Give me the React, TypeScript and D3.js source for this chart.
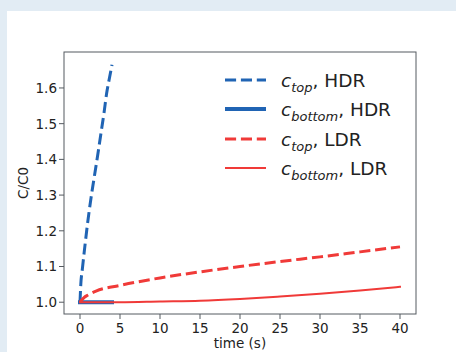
import React from "react";
import * as d3 from "d3";

const xTicks = [0, 5, 10, 15, 20, 25, 30, 35, 40];
const yTicks = [1.0, 1.1, 1.2, 1.3, 1.4, 1.5, 1.6];

const hdrTopT = [0, 0.1, 0.3, 0.6, 0.92, 1.3, 1.75, 2.2, 2.58, 3.0, 3.33, 3.7, 4.0];
const hdrTopC = [1.0, 1.05, 1.094, 1.155, 1.216, 1.28, 1.346, 1.41, 1.467, 1.53, 1.585, 1.63, 1.665];

const hdrBotT = [0, 4];
const hdrBotC = [1.0, 1.0];

const ldrTopT = [0, 0.5, 1, 2, 5, 10, 15, 20, 25, 30, 35, 40];
const ldrTopC = [1.0, 1.013, 1.02, 1.031, 1.047, 1.068, 1.085, 1.1, 1.114, 1.127, 1.141, 1.155];

const ldrBotT = [0, 5, 10, 15, 20, 25, 30, 35, 40];
const ldrBotC = [1.0, 1.0, 1.002, 1.004, 1.009, 1.016, 1.024, 1.033, 1.043];

const BLUE = "#2064b4";
const RED = "#f03a38";
const FONT = "DejaVu Sans, sans-serif";

const series = [
  { t: hdrTopT, c: hdrTopC, color: BLUE, lw: 3, dash: "11.1,4.8", sub: "top", tag: "HDR", cap: "butt" },
  { t: hdrBotT, c: hdrBotC, color: BLUE, lw: 4, dash: null, sub: "bottom", tag: "HDR", cap: "square" },
  { t: ldrTopT, c: ldrTopC, color: RED, lw: 3, dash: "11.1,4.8", sub: "top", tag: "LDR", cap: "butt" },
  { t: ldrBotT, c: ldrBotC, color: RED, lw: 2, dash: null, sub: "bottom", tag: "LDR", cap: "square" },
];

export default function App() {
  const W = 456, H = 352;
  const L = 64, R = 416, T = 52, B = 314;
  const x = d3.scaleLinear().domain([-2, 42]).range([L, R]);
  const y = d3.scaleLinear().domain([0.967, 1.7007]).range([B, T]);
  const axisColor = "#555a60";
  const textColor = "#222";

  const legendX0 = 225, legendX1 = 266, legendTextX = 281;
  const legendYs = [80, 109, 139, 168];

  return (
    <svg width={W} height={H} style={{ position: "absolute", left: 0, top: 0 }} fontFamily={FONT}>
      <rect x={0} y={0} width={W} height={H} fill="#e2ecf4" />
      <rect x={7} y={11} width={W - 7} height={H - 11} fill="#ffffff" />
      <defs>
        <clipPath id="plotclip">
          <rect x={L} y={T} width={R - L} height={B - T} />
        </clipPath>
      </defs>
      <g clipPath="url(#plotclip)">
        {series.map((s, i) => {
          const pts = s.t.map((tv, j) => [tv, s.c[j]] as [number, number]);
          const line = d3
            .line<[number, number]>()
            .x((d) => x(d[0]))
            .y((d) => y(d[1]))
            .curve(d3.curveMonotoneX);
          return (
            <path
              key={i}
              d={line(pts) || ""}
              fill="none"
              stroke={s.color}
              strokeWidth={s.lw}
              strokeDasharray={s.dash || undefined}
              strokeLinecap={s.cap as any}
              strokeLinejoin="round"
            />
          );
        })}
      </g>
      <rect x={L} y={T} width={R - L} height={B - T} fill="none" stroke={axisColor} strokeWidth={1} />
      {xTicks.map((v) => (
        <g key={"x" + v}>
          <line x1={x(v)} x2={x(v)} y1={B} y2={B + 5} stroke={axisColor} strokeWidth={1} />
          <text x={x(v)} y={B + 19} textAnchor="middle" fontSize={13.5} fill={textColor}>
            {String(v)}
          </text>
        </g>
      ))}
      {yTicks.map((v) => (
        <g key={"y" + v}>
          <line x1={L - 5} x2={L} y1={y(v)} y2={y(v)} stroke={axisColor} strokeWidth={1} />
          <text x={L - 7} y={y(v)} dy="0.36em" textAnchor="end" fontSize={13.5} fill={textColor}>
            {v.toFixed(1)}
          </text>
        </g>
      ))}
      <text x={(L + R) / 2} y={348} textAnchor="middle" fontSize={13.5} fill={textColor}>
        time (s)
      </text>
      <text
        transform={`translate(28, ${(T + B) / 2}) rotate(-90)`}
        textAnchor="middle"
        fontSize={13.5}
        fill={textColor}
      >
        C/C0
      </text>
      {series.map((s, i) => (
        <g key={"lg" + i}>
          <line
            x1={legendX0}
            x2={legendX1}
            y1={legendYs[i]}
            y2={legendYs[i]}
            stroke={s.color}
            strokeWidth={s.lw}
            strokeDasharray={s.dash || undefined}
          />
          <text x={legendTextX} y={legendYs[i] + 7} fontSize={18.5} fill={textColor}>
            <tspan fontStyle="italic">c</tspan>
            <tspan fontStyle="italic" fontSize={13} dy="4.5">
              {s.sub}
            </tspan>
            <tspan dy="-4.5">{", " + s.tag}</tspan>
          </text>
        </g>
      ))}
    </svg>
  );
}
